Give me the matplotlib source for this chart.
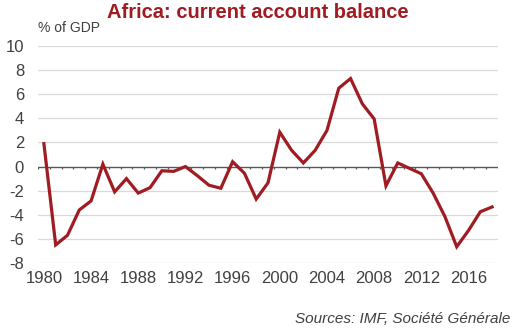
import numpy as np
import matplotlib
matplotlib.use("Agg")
import matplotlib.pyplot as plt

plt.rcParams['font.family'] = ['Liberation Sans', 'DejaVu Sans']

# current account balance, % of GDP
years = list(range(1980, 2019))
balance = [1.9, -6.5, -5.7, -3.6, -2.85, 0.2, -2.1, -1.0, -2.2, -1.75,
           -0.35, -0.4, 0.0, -0.75, -1.55, -1.8, 0.4, -0.55, -2.7, -1.35,
           2.85, 1.35, 0.3, 1.35, 3.0, 6.5, 7.3, 5.2, 3.95, -1.6,
           0.3, -0.15, -0.6, -2.2, -4.15, -6.65, -5.3, -3.75, -3.35]
yticks = [-8, -6, -4, -2, 0, 2, 4, 6, 8, 10]
xlabel_years = list(range(1980, 2017, 4))

red = '#a01c22'
txt = '#404040'

fig = plt.figure(figsize=(5.15, 3.3), dpi=100)
ax = fig.add_axes([38/515, 1 - 263/330, 460/515, 217/330])

x = np.arange(len(years))
ax.plot(x, balance, color=red, lw=2.3, solid_joinstyle='miter', zorder=3)

ax.set_xlim(-0.5, len(years) - 0.5)
ax.set_ylim(-8, 10)
ax.set_yticks(yticks)
ax.set_yticklabels([str(v) for v in yticks], fontsize=12, color=txt)
for v in yticks:
    if v != 0:
        ax.axhline(v, color='#d9d9d9', lw=0.9, zorder=1)
ax.axhline(0, color='#595959', lw=1.0, zorder=2)

# small ticks on the zero line between categories
bounds = np.arange(len(years) + 1) - 0.5
ax.vlines(bounds, 0, -0.22, color='#595959', lw=0.9, zorder=2)

ax.set_xticks([years.index(y) for y in xlabel_years])
ax.set_xticklabels([str(y) for y in xlabel_years], fontsize=12, color=txt)
ax.tick_params(axis='both', length=0)
ax.tick_params(axis='x', pad=6)
ax.tick_params(axis='y', pad=10)
for s in ax.spines.values():
    s.set_visible(False)

fig.text(0.5, 1 - 12/330, 'Africa: current account balance', ha='center', va='center',
         fontsize=14.5, fontweight='bold', color=red)
fig.text(38/515, 1 - 28/330, '% of GDP', ha='left', va='center', fontsize=10, color=txt)
fig.text(510/515, 1 - 319/330, 'Sources: IMF, Société Générale', ha='right', va='center',
         fontsize=11, style='italic', color=txt)

fig.savefig('out.png', dpi=100)
